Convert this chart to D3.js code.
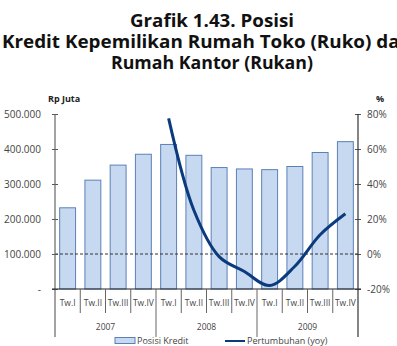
<!DOCTYPE html>
<html>
<head>
<meta charset="utf-8">
<script src="https://cdn.jsdelivr.net/npm/d3@7"></script>
<style>
  body { margin: 0; background: #fff; }
  svg { display: block; font-family: "Open Sans", "DejaVu Sans", sans-serif; }
</style>
</head>
<body>
<div id="chart"></div>
<script>
var quarters = ['Tw.I', 'Tw.II', 'Tw.III', 'Tw.IV', 'Tw.I', 'Tw.II', 'Tw.III', 'Tw.IV', 'Tw.I', 'Tw.II', 'Tw.III', 'Tw.IV']
var years = ['2007', '2008', '2009']
var kredit = [232000, 311000, 354000, 385000, 413000, 382000, 347000, 343000, 341000, 350000, 390000, 421000]
// growth only exists from 2008 Tw.I on
var growth = [null, null, null, null, 77.5, 25, -1.5, -10, -18, -7, 11, 23]
var leftTicks = [0, 100000, 200000, 300000, 400000, 500000]
var rightTicks = [-20, 0, 20, 40, 60, 80]
var titleLines = ['Grafik 1.43. Posisi', 'Kredit Kepemilikan Rumah Toko (Ruko) dan', 'Rumah Kantor (Rukan)']
var titleWidths = [164, 410, 202]

var W = 397, H = 346
var plotLeft = 55, plotRight = 358, plotTop = 114, plotBottom = 289

var svg = d3.select('#chart').append('svg').attr('width', W).attr('height', H)

// title
svg.append('g').selectAll('text')
  .data(titleLines).enter().append('text')
  .attr('x', (d, i) => i === 1 ? 207 : 212).attr('y', (d, i) => 27 + i * 21)
  .attr('text-anchor', 'middle')
  .attr('font-size', 18).attr('font-weight', 'bold').attr('fill', '#111')
  .attr('textLength', (d, i) => titleWidths[i]).attr('lengthAdjust', 'spacingAndGlyphs')
  .text(d => d)

var x = d3.scaleBand().domain(d3.range(quarters.length)).range([plotLeft, plotRight]).paddingInner(0.37).paddingOuter(0.185)
var yL = d3.scaleLinear().domain([0, 500000]).range([plotBottom, plotTop])
var yR = d3.scaleLinear().domain([-20, 80]).range([plotBottom, plotTop])
var step = x.step()

// bars
svg.append('g').selectAll('rect')
  .data(kredit).enter().append('rect')
  .attr('x', (d, i) => x(i)).attr('width', x.bandwidth())
  .attr('y', d => yL(d)).attr('height', d => plotBottom - yL(d))
  .attr('fill', '#c6d9f1').attr('stroke', '#5b80b8').attr('stroke-width', 1)

// dashed zero line
svg.append('line')
  .attr('x1', plotLeft).attr('x2', plotRight).attr('y1', yR(0)).attr('y2', yR(0))
  .attr('stroke', '#333').attr('stroke-dasharray', '3,2')

// growth line
var line = d3.line()
  .defined(d => d !== null)
  .x((d, i) => x(i) + x.bandwidth() / 2)
  .y(d => yR(d))
  .curve(d3.curveCatmullRom.alpha(0.5))
svg.append('path')
  .datum(growth)
  .attr('d', line)
  .attr('fill', 'none').attr('stroke', '#0b3b7d').attr('stroke-width', 3)

// left axis
var fmtL = d => d === 0 ? '-' : d3.format(',')(d).replace(/,/g, '.')
var axL = svg.append('g').attr('transform', 'translate(' + plotLeft + ',0)')
  .call(d3.axisLeft(yL).tickValues(leftTicks).tickFormat(fmtL).tickSizeInner(3).tickSizeOuter(0).tickPadding(11))
axL.selectAll('.tick line').attr('x2', 3).attr('x1', -3)
axL.select('.domain').remove()

// right axis
var axR = svg.append('g').attr('transform', 'translate(' + plotRight + ',0)')
  .call(d3.axisRight(yR).tickValues(rightTicks).tickFormat(d => d + '%').tickSizeInner(3).tickSizeOuter(0).tickPadding(6))
axR.selectAll('.tick line').attr('x1', -3).attr('x2', 3)
axR.select('.domain').remove()

;[axL, axR].forEach(ax => {
  ax.selectAll('.tick text').attr('font-size', 10).attr('fill', '#444').attr('font-family', '"Open Sans", sans-serif')
  ax.selectAll('.tick line').attr('stroke', '#555')
})

// vertical axis lines
svg.append('line').attr('x1', plotLeft).attr('x2', plotLeft).attr('y1', plotTop).attr('y2', 337).attr('stroke', '#666').attr('stroke-width', 1.2)
svg.append('line').attr('x1', plotRight).attr('x2', plotRight).attr('y1', plotTop).attr('y2', 337).attr('stroke', '#333').attr('stroke-width', 1.2)

// bottom axis
svg.append('line').attr('x1', plotLeft - 3).attr('x2', plotRight + 3).attr('y1', plotBottom).attr('y2', plotBottom).attr('stroke', '#222').attr('stroke-width', 1.2)

// quarter separators
svg.append('g').selectAll('line')
  .data(d3.range(1, quarters.length)).enter().append('line')
  .attr('x1', i => plotLeft + i * step).attr('x2', i => plotLeft + i * step)
  .attr('y1', plotBottom).attr('y2', i => i % 4 === 0 ? 337 : 313)
  .attr('stroke', '#666').attr('stroke-width', 1)

svg.append('g').selectAll('text')
  .data(quarters).enter().append('text')
  .attr('x', (d, i) => x(i) + x.bandwidth() / 2).attr('y', 306)
  .attr('text-anchor', 'middle').attr('font-size', 8.5).attr('fill', '#444')
  .text(d => d)

svg.append('g').selectAll('text')
  .data(years).enter().append('text')
  .attr('x', (d, i) => plotLeft + (i * 4 + 2) * step).attr('y', 330)
  .attr('text-anchor', 'middle').attr('font-size', 8.5).attr('fill', '#444')
  .text(d => d)

// axis titles
svg.append('text').attr('x', 48).attr('y', 102).attr('font-size', 9).attr('font-weight', 'bold').attr('fill', '#222').text('Rp Juta')
svg.append('text').attr('x', 376).attr('y', 102).attr('font-size', 9).attr('font-weight', 'bold').attr('fill', '#222').text('%')

// legend
var lg = svg.append('g')
lg.append('rect').attr('x', 115).attr('y', 337.5).attr('width', 20).attr('height', 6).attr('fill', '#c6d9f1').attr('stroke', '#5b80b8')
lg.append('text').attr('x', 137).attr('y', 343.5).attr('font-size', 9).attr('fill', '#444').text('Posisi Kredit')
lg.append('line').attr('x1', 225).attr('x2', 245).attr('y1', 341).attr('y2', 341).attr('stroke', '#0b3b7d').attr('stroke-width', 2)
lg.append('text').attr('x', 247).attr('y', 343.5).attr('font-size', 9).attr('fill', '#444').text('Pertumbuhan (yoy)')
</script>
</body>
</html>
